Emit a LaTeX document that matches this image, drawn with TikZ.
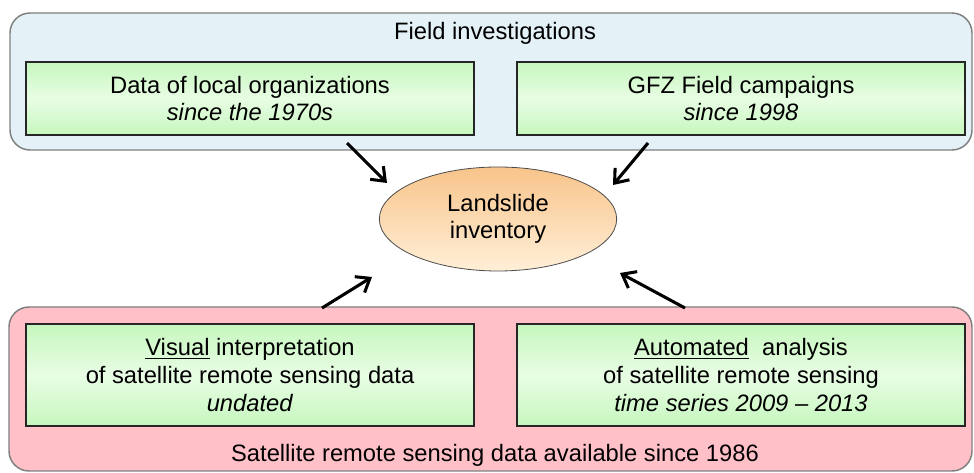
\documentclass[tikz,border=0pt]{standalone}
\usepackage{fontspec}
\setmainfont{Liberation Sans}
\usepackage{tikz}
\usetikzlibrary{arrows.meta,positioning,calc,shapes.geometric}
\usepackage{xcolor}
\tikzset{>={Straight Barb[length=9pt,width=14pt]}}

\definecolor{fieldblue}{HTML}{E4F2F8}
\definecolor{satpink}{HTML}{FFC0C7}
\definecolor{panelgray}{HTML}{7F7F7F}
\definecolor{boxgreen}{HTML}{C6F7BE}
\definecolor{boxlight}{HTML}{E8FDE4}
\definecolor{invtop}{HTML}{F8C48A}
\definecolor{invbot}{HTML}{FFEFD8}

\tikzset{
  panel/.style={draw=panelgray,line width=1.1pt,rounded corners=15pt},
  srcbox/.style={draw=black!85,line width=1.5pt,inner sep=0pt,align=center,
    minimum width=336pt,top color=boxgreen,bottom color=boxgreen,middle color=boxlight},
  invnode/.style={ellipse,draw=black!70,line width=0.6pt,inner sep=0pt,align=center,
    minimum width=178pt,minimum height=78pt,top color=invtop,bottom color=invbot},
  arr/.style={->,line width=2.3pt},
  every node/.style={font=\fontsize{17.8}{20.8}\selectfont}
}

\begin{document}
\begin{tikzpicture}[x=0.75pt,y=-0.75pt] % 1 unidad = 1 px
\useasboundingbox (0,0) rectangle (974,473);

% Paneles de fondo
\draw[panel,fill=fieldblue] (10,13) rectangle (972,150);
\draw[panel,fill=satpink] (9,307) rectangle (972,471);
\node (fieldlbl) at (495,33) {Field investigations};
\node (satlbl) at (495,455) {Satellite remote sensing data available since 1986};

% Fuentes de datos
\node[srcbox,minimum height=55pt] (local) at (250,98.5)
  {Data of local organizations\\ \textit{since the 1970s}};
\node[srcbox,minimum height=55pt] (gfz) at (741,98.5)
  {GFZ Field campaigns\\ \textit{since 1998}};
\node[srcbox,minimum height=76.5pt] (visual) at (250,375)
  {\underline{Visual} interpretation\\ of satellite remote sensing data\\ \textit{undated}};
\node[srcbox,minimum height=76.5pt] (auto) at (741,375)
  {\underline{Automated}\ \ analysis\\ of satellite remote sensing\\ \textit{time series 2009 -- 2013}};

% Inventario
\node[invnode] (inv) at (498,219) {Landslide\\ inventory};

% Flechas
\coordinate (t1) at (347,143); \coordinate (h1) at (387,183);
\coordinate (t2) at (648,143); \coordinate (h2) at (613,185);
\coordinate (t3) at (322,308); \coordinate (h3) at (372,277);
\coordinate (t4) at (685,308); \coordinate (h4) at (620,273);
\foreach \a/\b in {t1/h1, t2/h2, t3/h3, t4/h4} {
  \draw[arr] (\a) -- (\b);
}

\end{tikzpicture}
\end{document}
